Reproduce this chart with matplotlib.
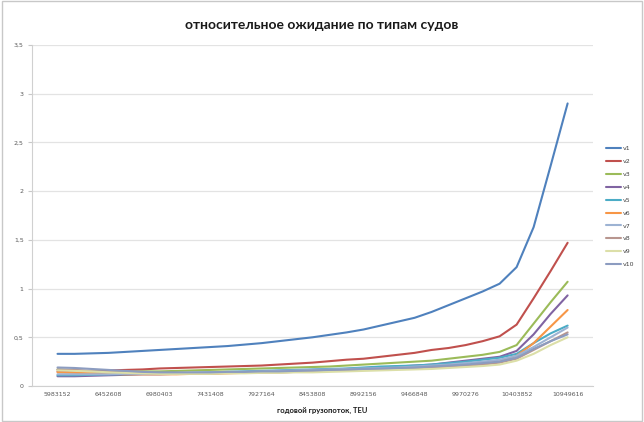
import matplotlib
matplotlib.use("Agg")
import matplotlib.pyplot as plt
from matplotlib.patches import Rectangle

# ---- data ----
tick_labels = ["5983152", "6452608", "6980403", "7431408", "7927164", "8453808",
               "8992156", "9466848", "9970276", "10403852", "10949616"]
points_per_label = 3  # readings taken every third of a label interval

v1 = [0.33, 0.33, 0.335, 0.34, 0.35, 0.36, 0.37, 0.38, 0.39, 0.40, 0.41, 0.425, 0.44, 0.46, 0.48, 0.50,
      0.525, 0.55, 0.58, 0.62, 0.66, 0.70, 0.76, 0.83, 0.90, 0.97, 1.05, 1.22, 1.63, 2.26, 2.90]
v2 = [0.15, 0.15, 0.155, 0.16, 0.165, 0.17, 0.18, 0.185, 0.19, 0.195, 0.20, 0.205, 0.21, 0.22, 0.23, 0.24,
      0.255, 0.27, 0.28, 0.30, 0.32, 0.34, 0.37, 0.39, 0.42, 0.46, 0.51, 0.63, 0.90, 1.18, 1.47]
v3 = [0.17, 0.16, 0.15, 0.145, 0.145, 0.15, 0.15, 0.155, 0.16, 0.165, 0.17, 0.175, 0.18, 0.185, 0.19, 0.195,
      0.20, 0.21, 0.22, 0.23, 0.24, 0.25, 0.26, 0.28, 0.30, 0.32, 0.35, 0.42, 0.64, 0.86, 1.07]
v4 = [0.10, 0.10, 0.105, 0.11, 0.115, 0.12, 0.12, 0.125, 0.13, 0.135, 0.14, 0.145, 0.15, 0.155, 0.16, 0.165,
      0.17, 0.175, 0.18, 0.19, 0.20, 0.21, 0.22, 0.24, 0.26, 0.28, 0.30, 0.36, 0.53, 0.74, 0.93]
v5 = [0.11, 0.11, 0.115, 0.12, 0.12, 0.125, 0.13, 0.13, 0.135, 0.14, 0.145, 0.15, 0.155, 0.16, 0.165, 0.17,
      0.175, 0.18, 0.19, 0.20, 0.205, 0.21, 0.22, 0.235, 0.25, 0.27, 0.29, 0.33, 0.44, 0.54, 0.62]
v6 = [0.14, 0.135, 0.13, 0.125, 0.12, 0.12, 0.12, 0.12, 0.125, 0.125, 0.13, 0.135, 0.14, 0.14, 0.145, 0.15,
      0.155, 0.16, 0.165, 0.17, 0.175, 0.18, 0.19, 0.20, 0.21, 0.23, 0.25, 0.31, 0.44, 0.61, 0.78]
v7 = [0.12, 0.12, 0.12, 0.12, 0.125, 0.125, 0.13, 0.13, 0.135, 0.14, 0.14, 0.145, 0.15, 0.155, 0.16, 0.165,
      0.17, 0.175, 0.18, 0.185, 0.19, 0.20, 0.21, 0.22, 0.235, 0.25, 0.27, 0.31, 0.40, 0.50, 0.60]
v8 = [0.17, 0.165, 0.155, 0.145, 0.14, 0.135, 0.13, 0.13, 0.13, 0.13, 0.135, 0.135, 0.14, 0.14, 0.145, 0.15,
      0.155, 0.16, 0.165, 0.17, 0.175, 0.18, 0.19, 0.20, 0.21, 0.22, 0.24, 0.28, 0.37, 0.46, 0.55]
v9 = [0.16, 0.155, 0.15, 0.14, 0.135, 0.13, 0.125, 0.125, 0.125, 0.125, 0.13, 0.13, 0.135, 0.135, 0.14, 0.14,
      0.145, 0.15, 0.155, 0.16, 0.165, 0.17, 0.175, 0.185, 0.195, 0.205, 0.22, 0.26, 0.33, 0.42, 0.50]
v10 = [0.19, 0.185, 0.175, 0.165, 0.155, 0.145, 0.14, 0.14, 0.14, 0.14, 0.145, 0.145, 0.15, 0.15, 0.155, 0.16,
       0.165, 0.17, 0.175, 0.18, 0.185, 0.19, 0.20, 0.21, 0.22, 0.235, 0.25, 0.29, 0.38, 0.46, 0.53]

series_names = ["v1", "v2", "v3", "v4", "v5", "v6", "v7", "v8", "v9", "v10"]
series = [v1, v2, v3, v4, v5, v6, v7, v8, v9, v10]
colors = ["#4F81BD", "#C0504D", "#9BBB59", "#8064A2", "#4BACC6", "#F79646",
          "#9DB3D3", "#B8968F", "#DCDFA8", "#8C9CC0"]

y_ticks = [0, 0.5, 1, 1.5, 2, 2.5, 3, 3.5]
y_tick_labels = ["0", "0,5", "1", "1,5", "2", "2,5", "3", "3,5"]

title = "относительное ожидание по типам судов"
xlabel = "годовой грузопоток, TEU"

plt.rcParams["font.family"] = ["Lato", "DejaVu Sans"]
tick_font = ["DejaVu Sans"]

# ---- figure ----
fig = plt.figure(figsize=(6.44, 4.22), dpi=100)
fig.patch.set_facecolor("white")
fig.patches.append(Rectangle((0.003, 0.003), 0.994, 0.994, transform=fig.transFigure,
                             fill=False, edgecolor="#C8C8C8", linewidth=1.0))

ax = fig.add_axes([0.0497, 0.0853, 0.8713, 0.8081])
x = list(range(len(v1)))
for name, ys, c in zip(series_names, series, colors):
    ax.plot(x, ys, color=c, linewidth=1.5, label=name, solid_capstyle="round",
            solid_joinstyle="round")

ax.set_xlim(-1.5, len(v1) - 1 + 1.5)
ax.set_ylim(0, 3.5)
ax.set_yticks(y_ticks)
ax.set_yticklabels(y_tick_labels, family=tick_font)
ax.set_xticks([i * points_per_label for i in range(len(tick_labels))])
ax.set_xticklabels(tick_labels, family=tick_font)
ax.tick_params(axis="both", labelsize=4.5, colors="#595959", length=0, pad=4)
ax.tick_params(axis="y", length=3, color="#C8C8C8", pad=3)
ax.grid(axis="y", color="#E3E3E3", linewidth=0.9)
ax.set_axisbelow(True)
for s in ["top", "right"]:
    ax.spines[s].set_visible(False)
ax.spines["left"].set_color("#D0D0D0")
ax.spines["bottom"].set_color("#D0D0D0")

fig.text(0.5, 0.94, title, ha="center", va="center", fontsize=10, fontweight="bold", color="#1a1a1a")
fig.text(0.5, 0.028, xlabel, ha="center", va="center", fontsize=5.5, fontweight="bold", color="#1a1a1a")

leg = ax.legend(loc="upper left", bbox_to_anchor=(0.937, 0.66), bbox_transform=fig.transFigure,
                frameon=False, prop={"family": tick_font, "size": 4.5}, handlelength=2.4,
                labelspacing=1.2, handletextpad=0.3, borderaxespad=0)
for t in leg.get_texts():
    t.set_color("#404040")

fig.savefig("out.png", dpi=100, facecolor="white")
